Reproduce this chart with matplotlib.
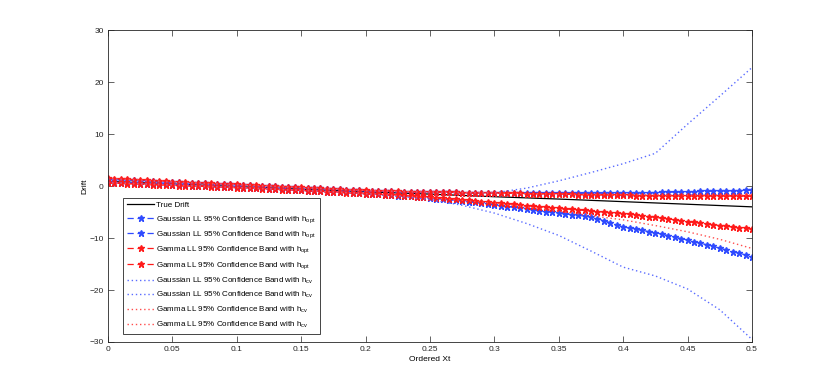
import numpy as np
import matplotlib
matplotlib.use("Agg")
import matplotlib.pyplot as plt

plt.rcParams['font.family'] = ['Liberation Sans', 'DejaVu Sans']
plt.rcParams['mathtext.fontset'] = 'custom'
plt.rcParams['mathtext.rm'] = 'Liberation Sans'
plt.rcParams['mathtext.it'] = 'Liberation Sans'

# ---------------- data ----------------
x_opt = np.linspace(0, 0.5, 101)      # ordered Xt grid of the marker series
x_cv = np.linspace(0, 0.5, 21)        # grid of the dotted cv bands
x_true = np.linspace(0, 0.5, 11)

true_drift = [0.9, 0.4, -0.1, -0.6, -1.1, -1.55, -2.05, -2.5, -3.0, -3.5, -4.0]

gauss_opt_upper = [
    1.30, 1.25, 1.19, 1.14, 1.08, 1.03, 0.97, 0.92, 0.86, 0.81, 0.75,
    0.70, 0.65, 0.60, 0.55, 0.50, 0.45, 0.40, 0.35, 0.30, 0.25,
    0.19, 0.14, 0.08, 0.03, -0.03, -0.08, -0.14, -0.19, -0.25, -0.30,
    -0.36, -0.42, -0.47, -0.53, -0.59, -0.65, -0.71, -0.77, -0.83, -0.89,
    -0.93, -0.97, -1.00, -1.03, -1.06, -1.08, -1.10, -1.12, -1.14, -1.16,
    -1.18, -1.20, -1.22, -1.24, -1.26, -1.27, -1.29, -1.30, -1.31, -1.32,
    -1.33, -1.34, -1.35, -1.36, -1.37, -1.37, -1.38, -1.38, -1.39, -1.39,
    -1.40, -1.40, -1.40, -1.40, -1.40, -1.39, -1.38, -1.37, -1.36, -1.35,
    -1.33, -1.31, -1.29, -1.27, -1.25, -1.22, -1.19, -1.16, -1.13, -1.10,
    -1.07, -1.04, -1.01, -0.98, -0.95, -0.92, -0.89, -0.86, -0.83, -0.80]

gauss_opt_lower = [
    0.70, 0.66, 0.61, 0.57, 0.52, 0.48, 0.43, 0.39, 0.34, 0.30, 0.25,
    0.20, 0.15, 0.10, 0.05, 0.00, -0.05, -0.10, -0.15, -0.20, -0.25,
    -0.30, -0.36, -0.41, -0.47, -0.52, -0.58, -0.63, -0.69, -0.74, -0.80,
    -0.86, -0.92, -0.98, -1.05, -1.11, -1.18, -1.24, -1.31, -1.38, -1.45,
    -1.52, -1.60, -1.67, -1.75, -1.83, -1.91, -2.00, -2.09, -2.19, -2.30,
    -2.41, -2.52, -2.64, -2.76, -2.89, -3.02, -3.16, -3.30, -3.46, -3.62,
    -3.78, -3.94, -4.10, -4.26, -4.42, -4.58, -4.74, -4.90, -5.06, -5.22,
    -5.36, -5.50, -5.64, -5.78, -5.95, -6.30, -6.65, -7.05, -7.45, -7.85,
    -8.10, -8.32, -8.54, -8.76, -8.98, -9.25, -9.52, -9.80, -10.10, -10.40,
    -10.70, -11.00, -11.30, -11.62, -11.95, -12.28, -12.60, -12.92, -13.25, -13.60]

gamma_opt_upper = [
    1.50, 1.43, 1.36, 1.30, 1.23, 1.17, 1.10, 1.04, 0.97, 0.91, 0.85,
    0.79, 0.74, 0.68, 0.63, 0.57, 0.52, 0.46, 0.41, 0.35, 0.30,
    0.24, 0.19, 0.13, 0.08, 0.02, -0.03, -0.09, -0.14, -0.20, -0.25,
    -0.31, -0.37, -0.43, -0.49, -0.55, -0.61, -0.67, -0.73, -0.79, -0.85,
    -0.89, -0.93, -0.96, -0.99, -1.02, -1.05, -1.07, -1.09, -1.12, -1.15,
    -1.17, -1.19, -1.21, -1.23, -1.25, -1.27, -1.29, -1.31, -1.33, -1.35,
    -1.37, -1.39, -1.41, -1.43, -1.45, -1.47, -1.49, -1.51, -1.53, -1.55,
    -1.58, -1.60, -1.63, -1.65, -1.68, -1.70, -1.73, -1.75, -1.78, -1.80,
    -1.81, -1.82, -1.82, -1.83, -1.84, -1.85, -1.85, -1.86, -1.87, -1.88,
    -1.89, -1.89, -1.90, -1.91, -1.92, -1.92, -1.93, -1.94, -1.95, -1.95]

gamma_opt_lower = [
    0.60, 0.56, 0.51, 0.47, 0.42, 0.38, 0.33, 0.29, 0.24, 0.20, 0.15,
    0.10, 0.06, 0.01, -0.04, -0.08, -0.12, -0.17, -0.21, -0.26, -0.30,
    -0.35, -0.41, -0.46, -0.52, -0.57, -0.63, -0.68, -0.74, -0.79, -0.85,
    -0.91, -0.97, -1.03, -1.09, -1.15, -1.21, -1.27, -1.33, -1.39, -1.45,
    -1.52, -1.59, -1.66, -1.73, -1.80, -1.87, -1.95, -2.03, -2.11, -2.20,
    -2.29, -2.38, -2.47, -2.57, -2.67, -2.77, -2.87, -2.98, -3.09, -3.20,
    -3.31, -3.42, -3.53, -3.64, -3.75, -3.86, -3.97, -4.08, -4.19, -4.30,
    -4.40, -4.50, -4.60, -4.70, -4.80, -4.90, -5.00, -5.10, -5.20, -5.30,
    -5.44, -5.58, -5.73, -5.88, -6.03, -6.18, -6.34, -6.50, -6.67, -6.85,
    -7.00, -7.15, -7.30, -7.45, -7.60, -7.74, -7.88, -8.02, -8.16, -8.30]

gauss_cv_upper = [1.30, 1.03, 0.75, 0.50, 0.25, -0.03, -0.30, -0.59, -0.89, -1.06,
                  -1.16, -1.26, -1.30, -0.40, 1.00, 2.60, 4.30, 6.30, 11.90, 17.30, 22.80]
gauss_cv_lower = [0.70, 0.48, 0.25, 0.00, -0.25, -0.52, -0.80, -1.10, -1.45, -1.95,
                  -2.60, -3.70, -5.20, -7.20, -9.50, -12.50, -15.60, -17.30, -19.80, -23.80, -29.50]
gamma_cv_upper = [1.50, 1.17, 0.85, 0.57, 0.30, 0.02, -0.25, -0.55, -0.85, -1.02,
                  -1.15, -1.25, -1.35, -1.45, -1.55, -1.62, -1.68, -1.70, -1.72, -1.72, -1.72]
gamma_cv_lower = [0.60, 0.38, 0.15, -0.08, -0.30, -0.57, -0.85, -1.15, -1.45, -1.80,
                  -2.25, -2.75, -3.30, -4.00, -4.85, -5.70, -6.50, -7.60, -8.80, -10.25, -12.00]

x_ticks = [0, 0.05, 0.1, 0.15, 0.2, 0.25, 0.3, 0.35, 0.4, 0.45, 0.5]
x_ticklabels = ['0', '0.05', '0.1', '0.15', '0.2', '0.25', '0.3', '0.35', '0.4', '0.45', '0.5']
y_ticks = [-30, -20, -10, 0, 10, 20, 30]

labels = [
    'True Drift',
    r'Gaussian LL 95% Confidence Band with h$_{\mathrm{opt}}$',
    r'Gaussian LL 95% Confidence Band with h$_{\mathrm{opt}}$',
    r'Gamma LL 95% Confidence Band with h$_{\mathrm{opt}}$',
    r'Gamma LL 95% Confidence Band with h$_{\mathrm{opt}}$',
    r'Gaussian LL 95% Confidence Band with h$_{\mathrm{cv}}$',
    r'Gaussian LL 95% Confidence Band with h$_{\mathrm{cv}}$',
    r'Gamma LL 95% Confidence Band with h$_{\mathrm{cv}}$',
    r'Gamma LL 95% Confidence Band with h$_{\mathrm{cv}}$',
]

# ---------------- plot ----------------
BLUE = '#2f4bff'
BLUE_DOT = '#5a6cff'
RED = '#ff1a1a'
RED_DOT = '#ff4d4d'

fig = plt.figure(figsize=(8.30, 3.86), dpi=100)
ax = fig.add_axes([0.130, 0.114, 0.776, 0.808])

fs = 6.0
ax.plot(x_true, true_drift, color='k', lw=0.9, label=labels[0])
mk = dict(marker='*', markersize=4.8, markeredgewidth=1.0, lw=0.9, linestyle=(0, (5, 3)))
ax.plot(x_opt, gauss_opt_upper, color=BLUE, label=labels[1], **mk)
ax.plot(x_opt, gauss_opt_lower, color=BLUE, label=labels[2], **mk)
ax.plot(x_opt, gamma_opt_upper, color=RED, label=labels[3], **mk)
ax.plot(x_opt, gamma_opt_lower, color=RED, label=labels[4], **mk)
dt = dict(lw=1.0, linestyle=(0, (1, 2.0)))
ax.plot(x_cv, gauss_cv_upper, color=BLUE_DOT, label=labels[5], **dt)
ax.plot(x_cv, gauss_cv_lower, color=BLUE_DOT, label=labels[6], **dt)
ax.plot(x_cv, gamma_cv_upper, color=RED_DOT, label=labels[7], **dt)
ax.plot(x_cv, gamma_cv_lower, color=RED_DOT, label=labels[8], **dt)

ax.set_xlim(0, 0.5)
ax.set_ylim(-30, 30)
ax.set_xticks(x_ticks)
ax.set_xticklabels(x_ticklabels)
ax.set_yticks(y_ticks)
ax.tick_params(direction='in', length=4.5, width=0.5, labelsize=fs,
               top=True, right=True, colors='#262626', pad=3)
for s in ax.spines.values():
    s.set_linewidth(0.6)
    s.set_color('#262626')

ax.set_xlabel('Ordered Xt', fontsize=fs, labelpad=2)
ax.set_ylabel('Drift', fontsize=fs, labelpad=1)

leg = ax.legend(loc='lower left', bbox_to_anchor=(0.024, 0.027), fontsize=5.8,
                frameon=True, fancybox=False, edgecolor='#262626', framealpha=1,
                handlelength=3.4, handletextpad=0.25, labelspacing=0.57,
                borderpad=0.45, borderaxespad=0)
leg.get_frame().set_linewidth(0.6)

fig.savefig('out.png', dpi=100)
